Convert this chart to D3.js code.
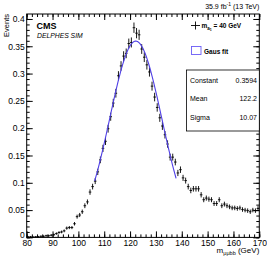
<!DOCTYPE html>
<html>
<head>
<meta charset="utf-8">
<script src="https://cdn.jsdelivr.net/npm/d3@7"></script>
<style>
  body { margin: 0; background: #fff; }
  text { font-family: "Liberation Sans", Arial, sans-serif; }
</style>
</head>
<body>
<div id="chart"></div>
<script>
var width = 267;
var height = 259;

// bin centres, 1 GeV bins from 80 to 170
var binLow = d3.range(80, 170);
var values = [
  0.001, 0.001, 0.0005, 0.001, 0.001, 0.002, 0.002, 0.003, 0.003, 0.004,
  0.005, 0.007, 0.009, 0.010, 0.012, 0.017, 0.018, 0.018, 0.025, 0.038,
  0.041, 0.047, 0.058, 0.065, 0.083, 0.093, 0.103, 0.120, 0.142, 0.163,
  0.176, 0.199, 0.221, 0.246, 0.264, 0.296, 0.314, 0.332, 0.337, 0.355,
  0.357, 0.384, 0.374, 0.371, 0.345, 0.330, 0.316, 0.303, 0.277, 0.257,
  0.238, 0.219, 0.204, 0.188, 0.171, 0.147, 0.147, 0.138, 0.118, 0.124,
  0.109, 0.104, 0.093, 0.086, 0.089, 0.089, 0.089, 0.078, 0.069, 0.072,
  0.070, 0.069, 0.062, 0.062, 0.069, 0.058, 0.061, 0.058, 0.056, 0.054,
  0.054, 0.053, 0.054, 0.051, 0.050, 0.049, 0.047, 0.050, 0.049, 0.053
];
var errors = [
  0.0005, 0.0005, 0.0004, 0.0005, 0.0005, 0.0006, 0.0006, 0.0008, 0.0008, 0.0009,
  0.0010, 0.0011, 0.0013, 0.0014, 0.0015, 0.0018, 0.0018, 0.0018, 0.0021, 0.0026,
  0.0027, 0.0029, 0.0033, 0.0034, 0.0039, 0.0041, 0.0043, 0.0047, 0.0051, 0.0055,
  0.0057, 0.0060, 0.0063, 0.0067, 0.0069, 0.0073, 0.0076, 0.0078, 0.0078, 0.0080,
  0.0081, 0.0084, 0.0083, 0.0082, 0.0079, 0.0078, 0.0076, 0.0074, 0.0071, 0.0068,
  0.0066, 0.0063, 0.0061, 0.0058, 0.0056, 0.0052, 0.0052, 0.0050, 0.0046, 0.0048,
  0.0045, 0.0043, 0.0041, 0.0040, 0.0040, 0.0040, 0.0040, 0.0038, 0.0035, 0.0036,
  0.0036, 0.0035, 0.0034, 0.0034, 0.0035, 0.0033, 0.0033, 0.0033, 0.0032, 0.0031,
  0.0031, 0.0031, 0.0031, 0.0030, 0.0030, 0.0030, 0.0029, 0.0030, 0.0030, 0.0031
];
var xTicks = [80, 90, 100, 110, 120, 130, 140, 150, 160, 170];
var yTicks = [0, 0.05, 0.1, 0.15, 0.2, 0.25, 0.3, 0.35, 0.4];
var yTickLabels = ["0", "0.05", "0.1", "0.15", "0.2", "0.25", "0.3", "0.35", "0.4"];

// gaussian fit result
var fitNames = ["Constant", "Mean", "Sigma"];
var fitValues = ["0.3594", "122.2", "10.07"];
var fitConst = 0.3594, fitMean = 122.2, fitSigma = 10.07;
var fitRange = [106.3, 138];

var FITCOLOR = "#4f3fe6";

var svg = d3.select("#chart").append("svg")
  .attr("width", width)
  .attr("height", height);

var padL = 26.7, padR = 259.3, padT = 14, padB = 237.4;

var x = d3.scaleLinear().domain([80, 170]).range([padL, padR]);
var y = d3.scaleLinear().domain([0, 0.4091]).range([padB, padT]);

// frame
svg.append("rect")
  .attr("x", padL).attr("y", padT)
  .attr("width", padR - padL).attr("height", padB - padT)
  .attr("fill", "none").attr("stroke", "#000").attr("stroke-width", 1);

function tickStyle(g) {
  g.select(".domain").remove();
  g.selectAll("line").attr("stroke", "#000");
  g.selectAll("text").attr("font-size", 8.5).attr("fill", "#000");
}

// bottom axis: major and minor ticks pointing inward
svg.append("g").attr("transform", "translate(0," + padB + ")")
  .call(d3.axisBottom(x).tickValues(d3.range(80, 171, 2)).tickSize(-3).tickFormat(""))
  .call(tickStyle);
svg.append("g").attr("transform", "translate(0," + padB + ")")
  .call(d3.axisBottom(x).tickValues(xTicks).tickSize(-6).tickPadding(2.5).tickFormat(d3.format("d")))
  .call(tickStyle);
svg.append("g").attr("transform", "translate(0," + padT + ")")
  .call(d3.axisTop(x).tickValues(d3.range(80, 171, 2)).tickSize(-3).tickFormat(""))
  .call(tickStyle);
svg.append("g").attr("transform", "translate(0," + padT + ")")
  .call(d3.axisTop(x).tickValues(xTicks).tickSize(-6).tickFormat(""))
  .call(tickStyle);

// left / right axes
var yMinor = d3.range(0, 41).map(function(d) { return d / 100; });
svg.append("g").attr("transform", "translate(" + padL + ",0)")
  .call(d3.axisLeft(y).tickValues(yMinor).tickSize(-3).tickFormat(""))
  .call(tickStyle);
svg.append("g").attr("transform", "translate(" + padL + ",0)")
  .call(d3.axisLeft(y).tickValues(yTicks).tickSize(-6).tickPadding(2)
    .tickFormat(function(d, i) { return yTickLabels[i]; }))
  .call(tickStyle)
  .call(function(g) {
    // ROOT puts the zero label a bit higher, so it sits above the "80"
    g.selectAll(".tick text").filter(function(d) { return d === 0; })
      .attr("y", -2.5);
  });
svg.append("g").attr("transform", "translate(" + padR + ",0)")
  .call(d3.axisRight(y).tickValues(yMinor).tickSize(-3).tickFormat(""))
  .call(tickStyle);
svg.append("g").attr("transform", "translate(" + padR + ",0)")
  .call(d3.axisRight(y).tickValues(yTicks).tickSize(-6).tickFormat(""))
  .call(tickStyle);

// data points with error bars
var pts = svg.append("g").selectAll("g")
  .data(values)
  .enter().append("g");

pts.append("line")
  .attr("x1", function(d, i) { return x(binLow[i]); })
  .attr("x2", function(d, i) { return x(binLow[i] + 1); })
  .attr("y1", function(d) { return y(d); })
  .attr("y2", function(d) { return y(d); })
  .attr("stroke", "#000").attr("stroke-width", 0.9);

pts.append("line")
  .attr("x1", function(d, i) { return x(binLow[i] + 0.5); })
  .attr("x2", function(d, i) { return x(binLow[i] + 0.5); })
  .attr("y1", function(d, i) { return y(d - errors[i]) + 0.6; })
  .attr("y2", function(d, i) { return y(d + errors[i]) - 0.6; })
  .attr("stroke", "#000").attr("stroke-width", 0.9);

// fit curve
var fitX = d3.range(fitRange[0], fitRange[1] + 0.01, 0.25);
var line = d3.line()
  .x(function(d) { return x(d); })
  .y(function(d) {
    var z = (d - fitMean) / fitSigma;
    return y(fitConst * Math.exp(-0.5 * z * z));
  });
svg.append("path")
  .datum(fitX)
  .attr("d", line)
  .attr("fill", "none")
  .attr("stroke", FITCOLOR)
  .attr("stroke-width", 1.1);

// axis titles
svg.append("text")
  .attr("transform", "translate(9," + padT + ") rotate(-90)")
  .attr("text-anchor", "end")
  .attr("font-size", 7.5)
  .text("Events");

var xt = svg.append("text")
  .attr("x", padR).attr("y", 253)
  .attr("text-anchor", "end")
  .attr("font-size", 8);
xt.append("tspan").text("m");
xt.append("tspan").attr("font-size", 5.5).attr("dy", 2).text("μμbb");
xt.append("tspan").attr("dy", -2).text(" (GeV)");

var lumi = svg.append("text")
  .attr("x", padR).attr("y", 9)
  .attr("text-anchor", "end")
  .attr("font-size", 7);
lumi.append("tspan").text("35.9 fb");
lumi.append("tspan").attr("font-size", 5).attr("dy", -3).text("-1");
lumi.append("tspan").attr("dy", 3).text(" (13 TeV)");

svg.append("text")
  .attr("x", 36.5).attr("y", 28.5)
  .attr("font-size", 9).attr("font-weight", "bold")
  .text("CMS");
svg.append("text")
  .attr("x", 37).attr("y", 37.7)
  .attr("font-size", 6.8).attr("font-style", "italic")
  .text("DELPHES SIM");

// legend
var lg = svg.append("g");
lg.append("line").attr("x1", 191).attr("x2", 200).attr("y1", 25.5).attr("y2", 25.5)
  .attr("stroke", "#000").attr("stroke-width", 0.9);
lg.append("line").attr("x1", 195.5).attr("x2", 195.5).attr("y1", 21.5).attr("y2", 29.5)
  .attr("stroke", "#000").attr("stroke-width", 0.9);
var lt = lg.append("text").attr("x", 201.5).attr("y", 28)
  .attr("font-size", 6.5).attr("font-weight", "bold");
lt.append("tspan").text("m");
lt.append("tspan").attr("font-size", 4.5).attr("dy", 1.5).text("a");
lt.append("tspan").attr("font-size", 3.5).attr("dy", 1).text("1");
lt.append("tspan").attr("dy", -2.5).text(" = 40 GeV");

lg.append("rect").attr("x", 191.5).attr("y", 46.5).attr("width", 9.5).attr("height", 8)
  .attr("fill", "#fff").attr("stroke", "#6a5cf5").attr("stroke-width", 0.9);
lg.append("text").attr("x", 204).attr("y", 53.5)
  .attr("font-size", 6.5).attr("font-weight", "bold")
  .text("Gaus fit");

// stats box
var sb = svg.append("g");
sb.append("rect").attr("x", 186.5).attr("y", 70).attr("width", padR - 186.5).attr("height", 61)
  .attr("fill", "#fff").attr("stroke", "#000").attr("stroke-width", 0.8);
sb.selectAll("text.name").data(fitNames).enter().append("text")
  .attr("class", "name")
  .attr("x", 190).attr("y", function(d, i) { return 82.5 + i * 18.6; })
  .attr("font-size", 7)
  .text(function(d) { return d; });
sb.selectAll("text.val").data(fitValues).enter().append("text")
  .attr("class", "val")
  .attr("x", 257).attr("y", function(d, i) { return 82.5 + i * 18.6; })
  .attr("text-anchor", "end")
  .attr("font-size", 7)
  .text(function(d) { return d; });
</script>
</body>
</html>
